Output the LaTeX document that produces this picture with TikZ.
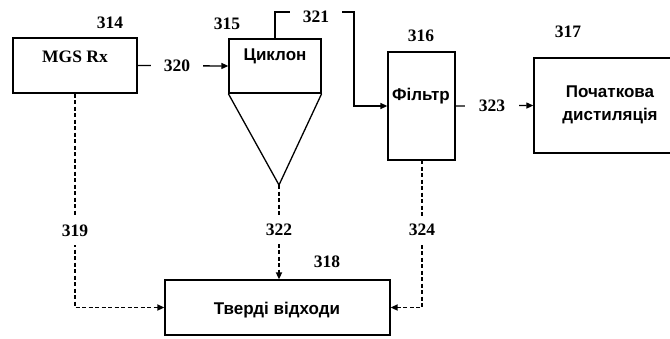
\documentclass[tikz,border=0pt]{standalone}
\usepackage{fontspec}
\setmainfont{Liberation Serif}
\newfontfamily\cyr{Liberation Sans}
\usetikzlibrary{arrows.meta,calc}
\begin{document}
\begin{tikzpicture}[x=1pt,y=-1pt,
  box/.style={draw,line width=1.3pt,rectangle,inner sep=0pt},
  num/.style={font=\fontsize{17.5}{17.5}\selectfont\bfseries,inner sep=0pt},
  cyrtxt/.style={font=\cyr\fontsize{17}{23}\selectfont\bfseries,inner sep=0pt,align=center},
  sertxt/.style={font=\fontsize{17.5}{17.5}\selectfont\bfseries,inner sep=0pt},
  flow/.style={line width=1.3pt,-{Triangle[length=7pt,width=6pt]}},
  waste/.style={line width=1.7pt,dash pattern=on 4pt off 2.5pt,-{Triangle[length=7pt,width=6pt]}},
  gap/.style={num,fill=white}]
\useasboundingbox (0,0) rectangle (670,338);
% boxes
\node[box,minimum width=124pt,minimum height=55pt] (mgs) at (75,65.5) {};
\node[box,minimum width=92pt,minimum height=54pt] (cyc) at (275,66) {};
\node[box,minimum width=67pt,minimum height=108pt] (filt) at (421.5,106) {};
\node[box,minimum width=146pt,minimum height=95pt] (dist) at (607,105.5) {};
\node[box,minimum width=225pt,minimum height=55pt] (was) at (277.5,307.5) {};
\coordinate (apex) at (279,185);
\coordinate (fb) at (422,160);
\coordinate (bend) at (354,12);
\draw[line width=1.3pt,line join=miter] (cyc.south west) -- (apex) -- (cyc.south east);
% texts
\node[sertxt] at (75,57) {MGS Rx};
\node[cyrtxt] at (275,56) {Циклон};
\node[cyrtxt] at (421,96) {Фільтр};
\node[cyrtxt] at (610,105) {Початкова\\дистиляція};
\node[cyrtxt] at (277,310) {Тверді відходи};
% reference numbers
\node[num] at (110,23) {314};
\node[num] at (227,24) {315};
\node[num] at (421,36) {316};
\node[num] at (568,32) {317};
\node[num] at (327,262) {318};
% connectors
\draw[flow] (mgs.east) -- node[gap,pos=0.435,minimum width=52pt,minimum height=16pt] {320} (cyc.west);
\draw[flow] (cyc.north) |- node[gap,pos=0.76,minimum width=52pt,minimum height=14pt,yshift=-5pt] {321} (bend) |- (filt.west);
\draw[flow] (filt.east) -- node[gap,pos=0.468,minimum width=54pt,minimum height=16pt] {323} (dist.west);
\draw[waste] (mgs.south) |- node[gap,pos=0.32,minimum height=29pt,minimum width=30pt] {319} (was.west);
\draw[waste] (apex) -- node[gap,pos=0.47,minimum height=29pt,minimum width=30pt] {322} (was.north -| apex);
\draw[waste] (fb) |- node[gap,pos=0.238,minimum height=29pt,minimum width=30pt] {324} (was.east);
\end{tikzpicture}
\end{document}
